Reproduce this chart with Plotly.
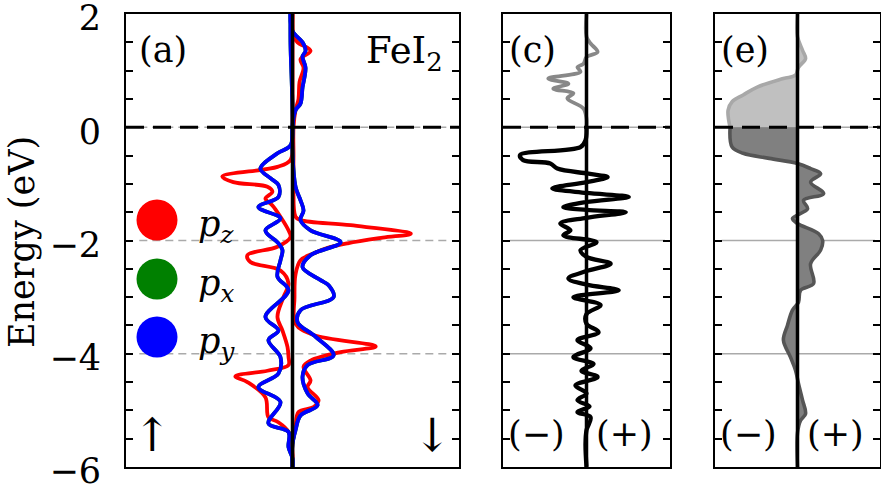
import plotly.graph_objects as go

# ---------------- data (DOS in arbitrary units, energy in eV) ----------------
# panel (a): FeI2 iodine p-orbital PDOS, spin up (negative) / spin down (positive)
pz_up_E = [2.0, 0.0, -0.23, -0.58, -0.70, -0.87, -0.97, -1.05, -1.14, -1.26, -1.38, -1.58,
           -1.82, -1.94, -2.11, -2.26, -2.38, -2.53, -2.76, -3.0, -3.35, -3.59, -3.88, -4.05,
           -4.2, -4.30, -4.40, -4.5, -4.77, -5.12, -5.2, -5.38, -5.76, -6.0]
pz_up = [0, 0, 0, -2, -15, -70, -59, -25, -20, -27, -20, -12,
         -4, -2, -15, -45, -42, -12, -4, -9, -15, -10, -5, -4,
         -4, -25, -57, -45, -27, -24, -15, -4, 0, 0]

pz_dn_E = [2.0, 1.6, 1.5, 1.35, 1.2, 1.05, 0.8, 0.5, 0.3, 0.0, -0.5, -1.0, -1.58, -1.64,
           -1.73, -1.88, -1.95, -2.05, -2.13, -2.22, -2.35, -2.6, -3.0, -3.47, -3.67, -3.87,
           -3.97, -4.12, -4.23, -4.47, -4.59, -4.82, -4.94, -5.03, -5.3, -5.6, -6.0]
pz_dn = [0, 1, 5, 18, 8, 11, 7, 6, 3, 1, 1, 1, 3, 8,
         58, 118, 90, 55, 35, 22, 8, 3, 2, 3, 21, 83,
         48, 18, 11, 18, 15, 26, 21, 6, 3, 0, 0]

py_up_E = [2.0, 1.5, 0.0, -0.32, -0.46, -0.73, -0.90, -1.02, -1.23, -1.41, -1.61, -1.82,
           -2.05, -2.17, -2.35, -2.64, -2.88, -3.35, -3.59, -3.76, -4.06, -4.35, -4.59,
           -4.85, -5.23, -5.38, -5.65, -5.85, -6.0]
py_up = [-2, -2, 0, -2, -15, -32, -22, -14, -14, -34, -12, -27,
         -14, -10, -12, -15, -4, -27, -14, -24, -12, -14, -34,
         -12, -24, -4, -4, 0, 0]

py_dn_E = [2.0, 1.7, 1.5, 1.35, 1.25, 1.05, 0.7, 0.42, 0.3, 0.0, -1.05, -1.29, -1.47, -1.64,
           -1.82, -2.03, -2.26, -2.47, -2.70, -2.79, -3.0, -3.23, -3.44, -3.70, -4.03, -4.2,
           -4.41, -4.70, -4.91, -5.09, -5.35, -5.6, -6.0]
py_dn = [-2, 0, 10, 13, 10, 13, 10, 8, 3, 0, 3, 8, 11, 8,
         18, 48, 18, 10, 28, 36, 41, 8, 5, 23, 41, 15,
         10, 15, 25, 8, 3, 0, 0]

# p_x is degenerate with p_y (hidden beneath it)
px_up_E, px_up = py_up_E, py_up
px_dn_E, px_dn = py_dn_E, py_dn

# panel (c): difference curve, unoccupied (gray) and occupied (black)
c_unocc_E = [2.0, 1.6, 1.48, 1.33, 1.24, 1.12, 1.06, 0.98, 0.86, 0.77, 0.68, 0.6, 0.51, 0.33, 0.15, 0.0]
c_unocc = [0, 0, 4, 11, 0, -3, -9, -6, -38, -18, -33, -13, -19, -3, 0, 0]

c_occ_E = [0.0, -0.23, -0.35, -0.49, -0.58, -0.64, -0.73, -0.82, -0.88, -0.97, -1.08, -1.16,
           -1.23, -1.32, -1.41, -1.46, -1.50, -1.60, -1.70, -1.82, -1.91, -2.03, -2.17, -2.29,
           -2.41, -2.54, -2.67, -2.78, -2.88, -3.0, -3.14, -3.3, -3.47, -3.62, -3.76, -3.9,
           -4.06, -4.18, -4.3, -4.41, -4.56, -4.7, -4.82, -4.93, -5.03, -5.12, -5.35, -5.59, -6.0]
c_occ = [0, -1, -6, -66, -63, -36, -29, 2, 21, 0, -34, 0,
         42, 0, -23, 0, 39, 0, -26, -16, -23, 10, -6, 0,
         24, 0, -18, 0, 32, -13, 14, 0, 0, 12, -9, 4,
         -13, 7, -5, 11, -11, 0, -9, 3, -9, 4, 0, -1, 0]

# panel (e): integrated quantity, above (light) and below (dark) the Fermi level
e_unocc_E = [2.0, 1.6, 1.36, 1.21, 1.06, 0.92, 0.86, 0.71, 0.57, 0.45, 0.30, 0.0]
e_unocc = [0, 0, 5, 8, 1, -2, -14, -40, -54, -65, -69, -67]

e_occ_E = [0.0, -0.35, -0.46, -0.55, -0.64, -0.73, -0.82, -0.97, -1.17, -1.29, -1.44, -1.61,
           -1.7, -1.88, -2.0, -2.17, -2.41, -2.76, -2.88, -3.09, -3.23, -3.50, -3.76, -4.06,
           -4.29, -4.53, -4.82, -5.06, -5.18, -5.4, -6.0]
e_occ = [-67, -65, -54, -28, 0, 13, 23, 13, 26, 6, 10, -5,
         0, 21, 25, 23, 13, 16, 3, 1, -5, -10, -14, -7,
         -2, 1, 5, 8, 3, 0, 0]

y_range = [-6, 2]
y_label_vals = [-6, -4, -2, 0, 2]
y_minor_step = 0.5
ref_lines = [-2, -4]
panel_labels = ["(a)", "(c)", "(e)"]
orbital_labels = ["<i>p</i><sub><i>z</i></sub>", "<i>p</i><sub><i>x</i></sub>", "<i>p</i><sub><i>y</i></sub>"]
orbital_colors = ["#ff0000", "#008000", "#0000ff"]

# ---------------- figure ----------------
W, H = 881, 489
FONT = "DejaVu Serif"
FS = 35

def px2x(p):
    return p / W

def px2y(p):
    return 1 - p / H

ydom = [px2y(467), px2y(14)]
xdoms = [[px2x(126), px2x(459)], [px2x(503), px2x(670)], [px2x(715), px2x(880)]]
xranges = [[-166, 166], [-83, 83], [-82, 82]]

fig = go.Figure()

def line(xv, yv, color, width, axis, fill=None, fillcolor=None):
    fig.add_trace(go.Scatter(
        x=xv, y=yv, mode="lines", xaxis="x" + axis, yaxis="y" + axis,
        line=dict(color=color, width=width, shape="spline", smoothing=1.0),
        fill=fill, fillcolor=fillcolor, showlegend=False, hoverinfo="skip"))

# panel (a)
for (E, v) in [(pz_up_E, pz_up), (pz_dn_E, pz_dn)]:
    line(v, E, orbital_colors[0], 3.8, "")
for (E, v) in [(px_up_E, px_up), (px_dn_E, px_dn)]:
    line(v, E, orbital_colors[1], 3.8, "")
for (E, v) in [(py_up_E, py_up), (py_dn_E, py_dn)]:
    line(v, E, orbital_colors[2], 3.8, "")

# panel (c)
line(c_unocc, c_unocc_E, "#888888", 3.8, "2")
line(c_occ, c_occ_E, "#000000", 4.3, "2")

# panel (e)
line(e_unocc, e_unocc_E, "#a8a8a8", 3.6, "3", fill="tozerox", fillcolor="#c0c0c0")
line(e_occ, e_occ_E, "#555555", 3.6, "3", fill="tozerox", fillcolor="#808080")

def fmt(v):
    return ("\u2212" + str(int(abs(v)))) if v < 0 else str(int(v))

axes = {}
for i, suf in enumerate(["", "2", "3"]):
    axes["xaxis" + suf] = dict(domain=xdoms[i], range=xranges[i], showline=True, mirror=True,
                               linecolor="black", linewidth=2, ticks="", showticklabels=False,
                               automargin=False,
                               showgrid=False, zeroline=False, anchor="y" + suf, fixedrange=True)
    axes["yaxis" + suf] = dict(domain=ydom, range=y_range, showline=True, mirror="allticks",
                               linecolor="black", linewidth=2, ticks="inside", ticklen=7,
                               tickwidth=1.5, tickcolor="black", tickmode="array",
                               tickvals=y_label_vals, ticktext=[fmt(v) for v in y_label_vals],
                               minor=dict(dtick=y_minor_step, tick0=0, ticks="inside", ticklen=7,
                                          tickwidth=1.5, tickcolor="black", showgrid=False),
                               showticklabels=(i == 0), ticklabelstandoff=16,
                               ticklabelshift=4,
                               ticklabeloverflow="allow", automargin=False,
                               tickfont=dict(family=FONT, size=FS, color="black"),
                               showgrid=False, zeroline=False, anchor="x" + suf, fixedrange=True)
fig.update_layout(**axes)

shapes = []
for i, suf in enumerate(["", "2", "3"]):
    xr = "x" + suf + " domain" if suf else "x domain"
    yr = "y" + suf
    dash = "8px,5px" if i == 0 else "solid"
    for yv in [0] + ref_lines:
        shapes.append(dict(type="line", xref=xr, yref=yr, x0=0.04, x1=0.97, y0=yv, y1=yv,
                           line=dict(color="#aaaaaa", width=1.6, dash=dash), layer="below"))
    # Fermi level
    shapes.append(dict(type="line", xref=xr, yref=yr, x0=0, x1=1, y0=0, y1=0,
                       line=dict(color="black", width=3, dash="18px,9px"), layer="above"))
    # zero-DOS axis
    shapes.append(dict(type="line", xref="x" + suf, yref=yr + " domain", x0=0, x1=0, y0=0, y1=1,
                       line=dict(color="black", width=3.5), layer="above"))

# legend circles
legend_y = [220, 279, 337]
for k, cy in enumerate(legend_y):
    shapes.append(dict(type="circle", xref="paper", yref="paper", xsizemode="pixel",
                       ysizemode="pixel", xanchor=px2x(157), yanchor=px2y(cy),
                       x0=-20.5, x1=20.5, y0=-20.5, y1=20.5,
                       fillcolor=orbital_colors[k], line=dict(width=0)))
fig.update_layout(shapes=shapes)

ann = []
def text(t, x, y, xanchor="left", size=FS, angle=0):
    ann.append(dict(text=t, x=px2x(x), y=px2y(y), xref="paper", yref="paper",
                    xanchor=xanchor, yanchor="middle", showarrow=False, textangle=angle,
                    font=dict(family=FONT, size=size, color="black")))

text(panel_labels[0], 137, 50)
text(panel_labels[1], 507, 50)
text(panel_labels[2], 719, 50)
text("FeI<sub>2</sub>", 445, 53, xanchor="right", size=37)
for k, cy in enumerate(legend_y):
    text(orbital_labels[k], 196, cy + 6)
text("\u2191", 152, 435, xanchor="center", size=46)
text("\u2193", 432, 435, xanchor="center", size=46)
text("(\u2212)", 506, 434)
text("(+)", 594, 434)
text("(\u2212)", 718, 434)
text("(+)", 805, 434)
text("Energy (eV)", 22, 242, xanchor="center", angle=-90)

fig.update_layout(annotations=ann, width=W, height=H, autosize=False,
                  margin=dict(l=0, r=0, t=0, b=0, pad=0),
                  paper_bgcolor="white", plot_bgcolor="white", showlegend=False)

fig.write_html("out.html",
               config={"responsive": False, "displayModeBar": False},
               post_script="document.body.style.margin='0px';document.body.style.overflow='hidden';")
